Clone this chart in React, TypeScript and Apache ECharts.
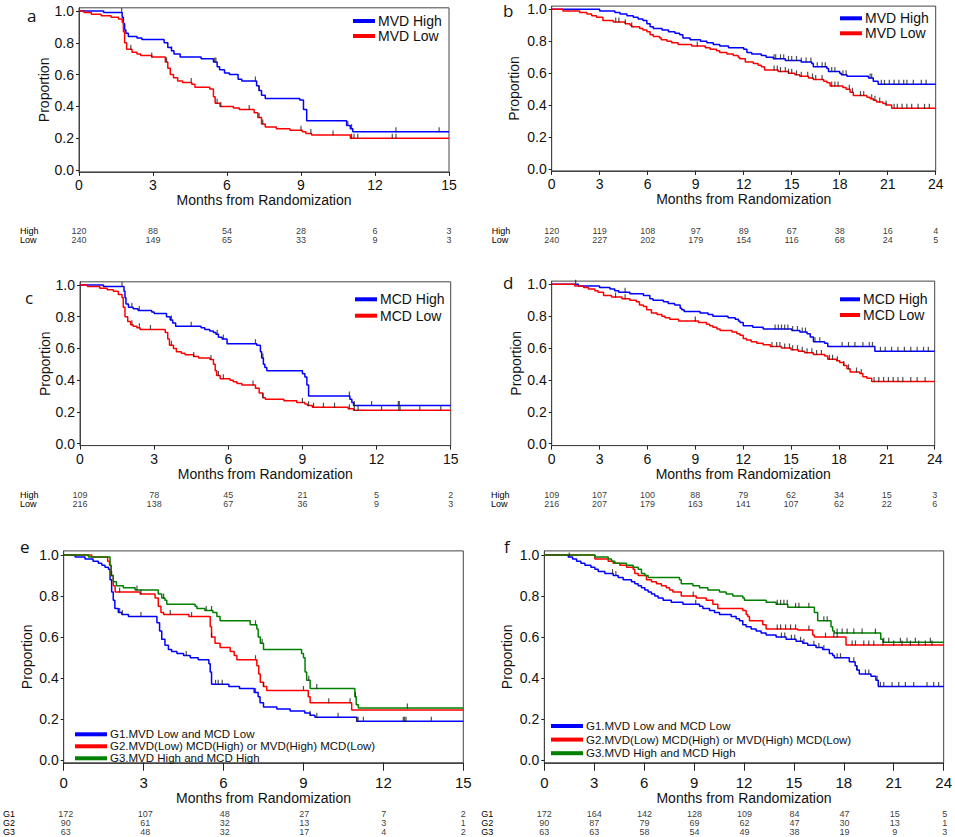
import React, { useEffect, useRef } from "react";
import * as echarts from "echarts";

type Pt = [number, number];

// ---------- Panel a: MVD, 15 months ----------
const aHigh: Pt[] = [[0,1],[1.0,0.99],[1.75,0.96],[1.8,0.92],[1.85,0.88],[1.9,0.86],[2.0,0.84],[2.35,0.83],[2.55,0.82],[3.45,0.80],[3.6,0.77],[3.75,0.75],[3.85,0.73],[4.1,0.71],[4.95,0.70],[5.45,0.68],[5.6,0.65],[5.7,0.63],[5.9,0.61],[6.1,0.60],[6.45,0.57],[6.6,0.56],[7.2,0.53],[7.3,0.50],[7.4,0.47],[7.55,0.45],[8.95,0.44],[9.1,0.38],[9.23,0.31],[10.85,0.28],[11.0,0.26],[11.1,0.24]];
const aLow: Pt[] = [[0,1],[0.2,0.99],[0.5,0.98],[0.9,0.97],[1.3,0.96],[1.6,0.95],[1.75,0.93],[1.8,0.87],[1.85,0.80],[1.93,0.76],[2.15,0.74],[2.35,0.73],[2.5,0.72],[2.95,0.71],[3.5,0.68],[3.6,0.64],[3.7,0.60],[3.83,0.58],[4.0,0.56],[4.2,0.55],[4.57,0.54],[4.7,0.52],[5.3,0.51],[5.45,0.46],[5.52,0.42],[5.72,0.40],[6.26,0.39],[6.5,0.38],[7.1,0.36],[7.25,0.33],[7.4,0.29],[7.55,0.27],[8.0,0.26],[8.55,0.25],[9.05,0.24],[9.2,0.23],[9.43,0.22],[11.0,0.20]];
const aHighCens = [1.73, 3.75, 5.5, 5.55, 7.15, 7.3, 10.9, 11.05, 12.85, 14.6];
const aLowCens = [2.1, 2.95, 3.55, 4.55, 5.6, 5.75, 6.9, 7.3, 7.45, 9.0, 9.4, 10.3, 11.05, 11.15, 11.3, 12.7, 12.85];

// ---------- Panel b: MVD, 24 months ----------
const bHigh: Pt[] = [[0,1],[3.0,0.99],[3.95,0.98],[4.27,0.97],[4.7,0.96],[5.1,0.95],[5.4,0.94],[5.7,0.93],[5.95,0.91],[6.15,0.89],[6.35,0.88],[6.9,0.87],[7.3,0.86],[7.7,0.85],[8.0,0.84],[8.2,0.82],[8.65,0.81],[9.3,0.80],[9.7,0.79],[10.1,0.78],[10.5,0.77],[11.05,0.76],[12.0,0.75],[12.2,0.73],[12.5,0.72],[13.1,0.71],[13.4,0.70],[13.85,0.69],[14.6,0.68],[15.6,0.67],[16.25,0.66],[16.35,0.64],[17.2,0.63],[17.3,0.61],[18.0,0.60],[18.1,0.59],[18.45,0.58],[19.8,0.57],[20.1,0.55],[20.4,0.53]];
const bLow: Pt[] = [[0,1],[0.7,0.99],[1.75,0.98],[2.2,0.97],[2.5,0.96],[2.8,0.95],[3.2,0.93],[3.85,0.92],[4.6,0.91],[4.9,0.90],[5.0,0.89],[5.5,0.88],[5.7,0.87],[5.95,0.86],[6.15,0.84],[6.35,0.83],[6.75,0.82],[6.85,0.81],[7.2,0.80],[7.5,0.79],[7.9,0.78],[8.75,0.77],[9.6,0.76],[9.9,0.75],[10.3,0.74],[10.5,0.73],[10.95,0.72],[11.35,0.71],[11.65,0.70],[11.75,0.69],[12.1,0.67],[12.6,0.66],[12.9,0.65],[13.1,0.64],[13.3,0.62],[14.15,0.61],[14.8,0.60],[15.2,0.59],[15.5,0.58],[16.05,0.57],[16.35,0.56],[17.0,0.55],[17.2,0.54],[17.4,0.52],[18.2,0.51],[18.4,0.50],[18.65,0.48],[18.85,0.46],[19.7,0.45],[19.9,0.44],[20.1,0.43],[20.3,0.42],[20.7,0.41],[20.9,0.40],[21.25,0.38]];
const bHighCens = [13.9,14.0,14.3,14.5,14.8,15.0,15.3,15.6,15.9,16.2,16.6,16.9,17.1,17.5,17.7,18.2,18.4,19.9,20.0,20.6,20.8,21.1,21.4,21.7,22.0,22.2,22.6,23.1,23.4];
const bLowCens = [4.0,4.2,4.6,5.0,9.1,13.9,14.1,14.3,14.6,14.8,15.0,15.3,15.6,16.0,16.3,16.5,16.9,17.5,17.7,17.9,18.6,18.8,19.3,19.5,20.0,20.2,20.5,20.9,21.4,21.6,21.9,22.2,22.5,22.9,23.3,23.6];

// ---------- Panel c: MCD, 15 months ----------
const cHigh: Pt[] = [[0,1],[0.95,0.99],[1.78,0.96],[1.82,0.92],[1.86,0.88],[1.96,0.86],[2.15,0.85],[2.35,0.84],[2.9,0.83],[3.0,0.82],[3.5,0.80],[3.65,0.78],[3.75,0.76],[3.87,0.74],[4.9,0.73],[5.05,0.72],[5.25,0.71],[5.4,0.70],[5.5,0.69],[5.6,0.67],[5.75,0.66],[5.95,0.63],[7.15,0.62],[7.3,0.58],[7.35,0.54],[7.42,0.50],[7.48,0.48],[7.56,0.46],[9.0,0.44],[9.1,0.42],[9.18,0.37],[9.25,0.30],[10.92,0.28],[11.0,0.26],[11.07,0.24]];
const cLow: Pt[] = [[0,1],[0.3,0.99],[0.8,0.98],[1.1,0.97],[1.35,0.96],[1.55,0.94],[1.7,0.92],[1.75,0.86],[1.82,0.80],[1.93,0.77],[2.05,0.75],[2.15,0.74],[2.3,0.73],[2.43,0.72],[3.45,0.70],[3.55,0.66],[3.62,0.62],[3.78,0.60],[3.9,0.58],[4.1,0.57],[4.25,0.56],[4.6,0.55],[4.8,0.54],[5.26,0.53],[5.4,0.50],[5.47,0.46],[5.53,0.43],[5.67,0.41],[6.07,0.40],[6.2,0.39],[6.35,0.38],[6.55,0.37],[7.1,0.35],[7.25,0.32],[7.4,0.29],[7.5,0.28],[8.25,0.27],[8.77,0.26],[9.1,0.25],[9.2,0.24],[9.4,0.23],[10.85,0.22],[11.07,0.21]];
const cHighCens = [1.7, 2.1, 2.4, 3.7, 4.5, 5.55, 5.8, 7.1, 7.4, 10.9, 11.1, 11.8, 12.88, 12.92];
const cLowCens = [2.1, 2.4, 2.85, 3.7, 4.6, 5.3, 5.6, 5.8, 7.0, 7.4, 9.0, 9.25, 9.45, 9.85, 10.3, 10.9, 11.1, 11.25, 12.2, 12.9, 12.95, 13.75, 14.6];

// ---------- Panel d: MCD, 24 months ----------
const dHigh: Pt[] = [[0,1],[1.67,0.99],[3.0,0.98],[3.65,0.97],[3.95,0.96],[4.2,0.95],[4.9,0.94],[5.75,0.93],[6.15,0.91],[6.35,0.90],[7.0,0.89],[7.3,0.88],[7.7,0.87],[8.05,0.85],[8.15,0.84],[8.3,0.83],[9.3,0.82],[9.8,0.81],[10.1,0.80],[11.05,0.79],[11.5,0.78],[11.7,0.77],[11.8,0.76],[12.0,0.74],[12.6,0.73],[13.25,0.72],[15.05,0.71],[15.55,0.70],[16.0,0.69],[16.2,0.67],[16.4,0.64],[17.1,0.63],[17.3,0.61],[20.25,0.58]];
const dLow: Pt[] = [[0,1],[1.45,0.99],[2.0,0.98],[2.3,0.97],[2.7,0.96],[2.9,0.95],[3.25,0.93],[3.75,0.92],[4.4,0.91],[4.9,0.90],[5.3,0.89],[5.5,0.87],[5.75,0.86],[5.95,0.84],[6.25,0.82],[6.6,0.81],[6.9,0.80],[7.1,0.79],[7.4,0.78],[7.95,0.77],[9.2,0.76],[9.7,0.75],[9.9,0.74],[10.1,0.73],[10.35,0.72],[10.55,0.71],[11.3,0.70],[11.6,0.69],[11.8,0.68],[12.0,0.66],[12.2,0.65],[12.5,0.64],[12.85,0.63],[13.25,0.62],[13.7,0.61],[14.4,0.60],[15.0,0.59],[15.45,0.58],[15.85,0.57],[16.4,0.56],[17.1,0.55],[17.3,0.53],[17.85,0.52],[18.05,0.51],[18.3,0.49],[18.5,0.47],[18.7,0.45],[19.3,0.44],[19.5,0.42],[19.75,0.41],[20.05,0.39]];
const dHighCens = [1.5, 4.6, 14.0, 14.2, 14.4, 14.6, 14.8, 15.1, 15.4, 15.7, 15.9, 16.5, 16.8, 18.2, 18.6, 19.0, 19.5, 19.9, 20.1, 20.6, 20.9, 21.3, 21.7, 22.1, 22.5, 22.9, 23.3, 23.6];
const dLowCens = [4.0, 4.6, 9.0, 13.8, 14.1, 14.3, 14.6, 14.9, 15.1, 15.4, 15.7, 16.0, 16.3, 16.6, 16.9, 17.4, 17.6, 17.9, 18.3, 18.6, 19.1, 19.4, 20.2, 20.5, 20.8, 21.1, 21.4, 21.7, 22.0, 22.5, 22.9, 23.4];

// ---------- Panel e: groups, 15 months ----------
const eG1: Pt[] = [[0,1],[0.43,0.99],[0.8,0.98],[1.1,0.97],[1.3,0.96],[1.43,0.95],[1.55,0.94],[1.68,0.93],[1.74,0.88],[1.8,0.82],[1.86,0.78],[1.92,0.74],[2.05,0.72],[2.18,0.71],[2.43,0.70],[3.5,0.67],[3.6,0.63],[3.68,0.59],[3.8,0.56],[3.93,0.54],[4.05,0.53],[4.25,0.52],[4.5,0.51],[4.75,0.50],[5.05,0.49],[5.45,0.47],[5.5,0.43],[5.55,0.37],[6.2,0.36],[6.6,0.35],[7.15,0.33],[7.3,0.31],[7.37,0.28],[7.5,0.26],[8.0,0.25],[8.5,0.24],[9.05,0.23],[9.25,0.22],[9.43,0.21],[11.0,0.19]];
const eG2: Pt[] = [[0,1],[1.05,0.99],[1.65,0.97],[1.72,0.95],[1.78,0.90],[1.86,0.85],[1.93,0.82],[2.87,0.81],[3.43,0.79],[3.55,0.75],[3.65,0.72],[3.75,0.71],[4.7,0.70],[5.5,0.65],[5.55,0.60],[5.68,0.57],[5.87,0.55],[6.25,0.53],[6.4,0.51],[6.5,0.49],[7.25,0.46],[7.32,0.42],[7.38,0.38],[7.5,0.36],[7.62,0.34],[9.18,0.31],[9.25,0.28],[10.81,0.245]];
const eG3: Pt[] = [[0,1],[0.93,0.99],[1.74,0.95],[1.78,0.90],[1.86,0.87],[1.98,0.85],[2.24,0.84],[2.68,0.83],[3.55,0.81],[3.68,0.79],[3.8,0.78],[3.87,0.76],[4.93,0.75],[5.0,0.74],[5.3,0.73],[5.6,0.72],[5.75,0.70],[5.87,0.68],[7.0,0.66],[7.25,0.64],[7.3,0.60],[7.38,0.57],[7.5,0.54],[8.93,0.52],[9.0,0.50],[9.06,0.43],[9.12,0.39],[9.25,0.35],[10.93,0.31],[10.98,0.27],[11.06,0.255]];
const eG1Cens = [2.1, 2.2, 2.9, 4.6, 5.7, 5.8, 5.95, 7.2, 9.25, 9.5, 10.3, 11.0, 11.05, 11.25, 12.75, 12.8, 12.85, 13.8];
const eG2Cens = [2.1, 2.9, 4.0, 4.8, 5.55, 7.2, 7.5, 9.0, 9.95, 10.75];
const eG3Cens = [1.8, 2.75, 3.75, 5.35, 5.55, 7.2, 7.45, 9.2, 9.5, 10.95, 12.9];

// ---------- Panel f: groups, 24 months ----------
const fG1: Pt[] = [[0,1],[1.44,0.99],[1.7,0.98],[1.94,0.97],[2.2,0.96],[2.44,0.95],[2.8,0.94],[3.04,0.93],[3.24,0.92],[3.64,0.91],[4.14,0.90],[4.44,0.89],[4.74,0.88],[5.24,0.87],[5.44,0.86],[5.64,0.85],[5.84,0.84],[6.04,0.83],[6.24,0.82],[6.44,0.81],[6.64,0.80],[6.84,0.79],[7.14,0.78],[7.63,0.77],[8.33,0.76],[9.33,0.75],[9.53,0.74],[9.93,0.73],[10.23,0.72],[10.53,0.71],[11.23,0.70],[11.53,0.69],[11.73,0.68],[11.93,0.66],[12.13,0.65],[12.43,0.64],[12.73,0.63],[13.03,0.62],[13.33,0.61],[13.93,0.60],[14.53,0.59],[15.13,0.58],[15.53,0.57],[15.83,0.56],[16.33,0.55],[16.73,0.54],[17.13,0.52],[17.33,0.51],[17.43,0.50],[18.33,0.48],[18.68,0.46],[18.78,0.44],[18.93,0.42],[19.63,0.41],[19.93,0.39],[20.07,0.36]];
const fG2: Pt[] = [[0,1],[3.04,0.98],[3.84,0.97],[4.14,0.96],[4.54,0.95],[4.94,0.94],[5.34,0.93],[5.44,0.91],[5.64,0.90],[6.14,0.88],[6.44,0.87],[6.74,0.86],[7.04,0.85],[7.33,0.84],[7.53,0.83],[7.73,0.82],[8.23,0.80],[9.13,0.79],[9.73,0.78],[10.13,0.76],[10.43,0.74],[11.93,0.73],[12.13,0.71],[12.23,0.70],[12.33,0.68],[13.13,0.66],[13.33,0.64],[15.23,0.635],[16.13,0.61],[16.23,0.60],[18.13,0.562]];
const fG3: Pt[] = [[0,1],[3.04,0.99],[3.84,0.98],[4.04,0.97],[4.24,0.96],[4.94,0.95],[5.34,0.94],[5.64,0.93],[5.84,0.91],[6.04,0.90],[6.24,0.89],[8.13,0.88],[8.23,0.86],[8.93,0.85],[9.33,0.84],[9.83,0.83],[10.53,0.82],[10.93,0.81],[11.33,0.80],[11.93,0.79],[12.03,0.78],[13.33,0.77],[13.93,0.76],[14.63,0.745],[16.23,0.72],[16.43,0.68],[17.23,0.65],[17.33,0.63],[17.43,0.62],[20.22,0.59],[20.36,0.575]];
const fG1Cens = [1.5, 4.1, 4.3, 9.1, 14.25, 14.45, 14.85, 15.05, 15.4, 15.6, 16.2, 16.5, 16.8, 17.6, 17.8, 18.6, 18.8, 19.3, 19.5, 20.0, 20.2, 20.4, 20.9, 21.3, 21.7, 22.2, 23.0, 23.4, 23.7];
const fG2Cens = [8.95, 14.0, 14.2, 14.5, 14.8, 15.1, 15.9, 16.9, 17.4, 17.6, 18.5, 18.7, 19.2, 19.5, 19.8, 20.35, 21.0, 21.5, 22.0, 22.5, 22.9, 23.3];
const fG3Cens = [14.0, 14.2, 14.4, 14.6, 15.1, 15.3, 15.9, 16.8, 17.0, 17.6, 17.9, 18.2, 18.6, 19.1, 19.9, 20.4, 20.7, 21.4, 21.8, 22.3, 23.2];

// ---------- Axis ticks & numbers at risk ----------
const ticks15 = [0, 3, 6, 9, 12, 15];
const ticks24 = [0, 3, 6, 9, 12, 15, 18, 21, 24];
const yTicks = [0, 0.2, 0.4, 0.6, 0.8, 1.0];

const hlLabels = ["High", "Low"];
const gLabels = ["G1", "G2", "G3"];
const aRiskHigh = [120, 88, 54, 28, 6, 3];
const aRiskLow = [240, 149, 65, 33, 9, 3];
const bRiskHigh = [120, 119, 108, 97, 89, 67, 38, 16, 4];
const bRiskLow = [240, 227, 202, 179, 154, 116, 68, 24, 5];
const cRiskHigh = [109, 78, 45, 21, 5, 2];
const cRiskLow = [216, 138, 67, 36, 9, 3];
const dRiskHigh = [109, 107, 100, 88, 79, 62, 34, 15, 3];
const dRiskLow = [216, 207, 179, 163, 141, 107, 62, 22, 6];
const eRiskG1 = [172, 107, 48, 27, 7, 2];
const eRiskG2 = [90, 61, 32, 13, 3, 1];
const eRiskG3 = [63, 48, 32, 17, 4, 2];
const fRiskG1 = [172, 164, 142, 128, 109, 84, 47, 15, 5];
const fRiskG2 = [90, 87, 79, 69, 62, 47, 30, 13, 1];
const fRiskG3 = [63, 63, 58, 54, 49, 38, 19, 9, 3];

const BLUE = "#0000ff";
const RED = "#ff0000";
const GREEN = "#008000";
const G1N = "G1.MVD Low and MCD Low";
const G2N = "G2.MVD(Low) MCD(High) or MVD(High) MCD(Low)";
const G3N = "G3.MVD High and MCD High";

const FONT = "'Liberation Sans', Arial, sans-serif";
const NARROW = "'Liberation Sans Narrow', 'Liberation Sans', Arial, sans-serif";

interface Curve { name: string; color: string; data: Pt[]; cens: number[] }
interface Panel {
  letter: string; letterPos: [number, number];
  xmax: number; ticks: number[];
  curves: Curve[];
  riskLabels: string[]; riskCounts: number[][];
  box: { x0: number; x1: number; y1: number; y0: number };
  riskTop: number; riskRow: number; riskMargin: number;
  yNameGap: number; xNameGap: number; xLabelMargin: number; xLabelSize: number; xTickLen: number;
  legend: { left: number; top: number; w: number; gap: number; size: number; lh: number };
}

const panels: Panel[] = [
  {
    letter: "a", letterPos: [27, 15], xmax: 15, ticks: ticks15,
    curves: [
      { name: "MVD High", color: BLUE, data: aHigh, cens: aHighCens },
      { name: "MVD Low", color: RED, data: aLow, cens: aLowCens },
    ],
    riskLabels: hlLabels, riskCounts: [aRiskHigh, aRiskLow],
    box: { x0: 79, x1: 449, y1: 11, y0: 170 },
    riskTop: 225.75, riskRow: 9.5, riskMargin: 59,
    yNameGap: 27, xNameGap: 18, xLabelMargin: 6, xLabelSize: 14, xTickLen: 4,
    legend: { left: 353, top: 14, w: 22, gap: 1, size: 14, lh: 14 },
  },
  {
    letter: "b", letterPos: [503, 10], xmax: 24, ticks: ticks24,
    curves: [
      { name: "MVD High", color: BLUE, data: bHigh, cens: bHighCens },
      { name: "MVD Low", color: RED, data: bLow, cens: bLowCens },
    ],
    riskLabels: hlLabels, riskCounts: [bRiskHigh, bRiskLow],
    box: { x0: 551.7, x1: 935.7, y1: 9.3, y0: 169 },
    riskTop: 225.75, riskRow: 9.5, riskMargin: 60,
    yNameGap: 31, xNameGap: 18, xLabelMargin: 6, xLabelSize: 14, xTickLen: 4,
    legend: { left: 840, top: 11.3, w: 22, gap: 1, size: 14, lh: 14 },
  },
  {
    letter: "c", letterPos: [25, 297.5], xmax: 15, ticks: ticks15,
    curves: [
      { name: "MCD High", color: BLUE, data: cHigh, cens: cHighCens },
      { name: "MCD Low", color: RED, data: cLow, cens: cLowCens },
    ],
    riskLabels: hlLabels, riskCounts: [cRiskHigh, cRiskLow],
    box: { x0: 80, x1: 450.7, y1: 285, y0: 443.7 },
    riskTop: 489.75, riskRow: 9.5, riskMargin: 60,
    yNameGap: 28, xNameGap: 17, xLabelMargin: 6, xLabelSize: 14, xTickLen: 4,
    legend: { left: 355, top: 292.3, w: 22, gap: 2.4, size: 14, lh: 14 },
  },
  {
    letter: "d", letterPos: [503, 282.5], xmax: 24, ticks: ticks24,
    curves: [
      { name: "MCD High", color: BLUE, data: dHigh, cens: dHighCens },
      { name: "MCD Low", color: RED, data: dLow, cens: dLowCens },
    ],
    riskLabels: hlLabels, riskCounts: [dRiskHigh, dRiskLow],
    box: { x0: 551.7, x1: 934.7, y1: 284.3, y0: 443.7 },
    riskTop: 489.75, riskRow: 9.5, riskMargin: 60.7,
    yNameGap: 25, xNameGap: 18, xLabelMargin: 6, xLabelSize: 14, xTickLen: 4,
    legend: { left: 840, top: 292.3, w: 20, gap: 1.7, size: 14, lh: 14 },
  },
  {
    letter: "e", letterPos: [20, 546], xmax: 15, ticks: ticks15,
    curves: [
      { name: G1N, color: BLUE, data: eG1, cens: eG1Cens },
      { name: G2N, color: RED, data: eG2, cens: eG2Cens },
      { name: G3N, color: GREEN, data: eG3, cens: eG3Cens },
    ],
    riskLabels: gLabels, riskCounts: [eRiskG1, eRiskG2, eRiskG3],
    box: { x0: 63.7, x1: 463.3, y1: 555, y0: 760.3 },
    riskTop: 809.25, riskRow: 9.5, riskMargin: 62.7,
    yNameGap: 30, xNameGap: 27, xLabelMargin: 12, xLabelSize: 15, xTickLen: 8,
    legend: { left: 75, top: 728.3, w: 32, gap: 0, size: 11.5, lh: 11.5 },
  },
  {
    letter: "f", letterPos: [504, 546], xmax: 24, ticks: ticks24,
    curves: [
      { name: G1N, color: BLUE, data: fG1, cens: fG1Cens },
      { name: G2N, color: RED, data: fG2, cens: fG2Cens },
      { name: G3N, color: GREEN, data: fG3, cens: fG3Cens },
    ],
    riskLabels: gLabels, riskCounts: [fRiskG1, fRiskG2, fRiskG3],
    box: { x0: 544.3, x1: 944.7, y1: 555, y0: 760.3 },
    riskTop: 809.25, riskRow: 9.5, riskMargin: 63,
    yNameGap: 30, xNameGap: 27, xLabelMargin: 12, xLabelSize: 15, xTickLen: 8,
    legend: { left: 551, top: 720, w: 32, gap: 1.6, size: 11.5, lh: 12 },
  },
];

const Y_MIN = -0.012;
const Y_MAX = 1.02;
const RISK_FONT = 9;

function stepAt(curve: Pt[], t: number): number {
  let v = curve[0][1];
  for (const [x, y] of curve) {
    if (x <= t) v = y;
    else break;
  }
  return v;
}

function buildOption() {
  const grid: any[] = [];
  const xAxis: any[] = [];
  const yAxis: any[] = [];
  const series: any[] = [];
  const legend: any[] = [];
  const graphic: any[] = [];

  panels.forEach((p, i) => {
    const h = p.box.y0 - p.box.y1;
    const mi = 2 * i;
    const ri = 2 * i + 1;
    grid.push({
      left: p.box.x0,
      top: p.box.y1 - (Y_MAX - 1) * h,
      width: p.box.x1 - p.box.x0,
      height: (Y_MAX - Y_MIN) * h,
      show: true,
      borderColor: "#444",
      borderWidth: 1,
      backgroundColor: "transparent",
    });
    grid.push({
      left: p.box.x0,
      top: p.riskTop,
      width: p.box.x1 - p.box.x0,
      height: p.riskRow * p.riskLabels.length,
    });

    xAxis.push({
      gridIndex: mi,
      type: "value",
      min: 0,
      max: p.xmax,
      interval: 3,
      axisLine: { show: true, onZero: false, lineStyle: { color: "#444" } },
      axisTick: { show: true, length: p.xTickLen, lineStyle: { color: "#222" } },
      axisLabel: { fontSize: p.xLabelSize, color: "#111", margin: p.xLabelMargin, fontFamily: p.xLabelSize > 14 ? NARROW : FONT, showMinLabel: true, showMaxLabel: true },
      splitLine: { show: false },
      name: "Months from Randomization",
      nameLocation: "middle",
      nameGap: p.xNameGap,
      nameTextStyle: { fontSize: 14, color: "#111", fontFamily: FONT },
    });
    xAxis.push({ gridIndex: ri, type: "value", min: 0, max: p.xmax, show: false });

    yAxis.push({
      gridIndex: mi,
      type: "value",
      min: Y_MIN,
      max: Y_MAX,
      axisLine: { show: true, onZero: false, lineStyle: { color: "#444" } },
      axisTick: { show: true, length: 3, customValues: yTicks, lineStyle: { color: "#222" } },
      axisLabel: { customValues: yTicks, formatter: (v: number) => v.toFixed(1), fontSize: 14, color: "#111", margin: 5, fontFamily: FONT },
      splitLine: { show: false },
      name: "Proportion",
      nameLocation: "middle",
      nameGap: p.yNameGap,
      nameRotate: 90,
      nameTextStyle: { fontSize: 14, color: "#111", fontFamily: FONT },
    });
    yAxis.push({
      gridIndex: ri,
      type: "category",
      data: p.riskLabels,
      inverse: true,
      axisLine: { show: false },
      axisTick: { show: false },
      splitLine: { show: false },
      axisLabel: { interval: 0, align: "left", margin: p.riskMargin, fontSize: RISK_FONT, lineHeight: RISK_FONT, color: "#000", fontFamily: FONT },
    });

    p.curves.forEach((c) => {
      const last = c.data[c.data.length - 1];
      series.push({
        type: "line",
        name: c.name,
        xAxisIndex: mi,
        yAxisIndex: mi,
        step: "end",
        symbol: "none",
        silent: true,
        lineStyle: { width: 1.5, color: c.color },
        itemStyle: { color: c.color },
        data: [...c.data, [p.xmax, last[1]]],
      });
    });
    p.curves.forEach((c) => {
      series.push({
        type: "scatter",
        name: c.name + " (censored)",
        xAxisIndex: mi,
        yAxisIndex: mi,
        symbol: "rect",
        symbolSize: [1.2, 5],
        symbolOffset: [0, -2],
        silent: true,
        z: 5,
        itemStyle: { color: "#222" },
        data: c.cens.map((t) => [t, stepAt(c.data, t)]),
      });
    });
    p.riskCounts.forEach((counts, r) => {
      series.push({
        type: "scatter",
        name: "risk-" + p.letter + "-" + r,
        xAxisIndex: ri,
        yAxisIndex: ri,
        symbolSize: 1,
        silent: true,
        itemStyle: { color: "rgba(0,0,0,0)" },
        label: {
          show: true,
          position: "inside",
          formatter: (q: any) => String(q.value[2]),
          fontSize: RISK_FONT,
          lineHeight: RISK_FONT,
          color: "#000",
          fontFamily: FONT,
        },
        labelLayout: { hideOverlap: false },
        data: p.ticks.map((t, j) => [t, r, counts[j]]),
      });
    });

    legend.push({
      data: p.curves.map((c) => c.name),
      orient: "vertical",
      left: p.legend.left,
      top: p.legend.top,
      padding: 0,
      icon: "rect",
      itemWidth: p.legend.w,
      itemHeight: 4,
      itemGap: p.legend.gap,
      selectedMode: false,
      textStyle: { fontSize: p.legend.size, lineHeight: p.legend.lh, color: "#111", fontFamily: FONT, padding: [0, 0, 0, -2] },
    });

    graphic.push({
      type: "text",
      x: p.letterPos[0],
      y: p.letterPos[1],
      style: { text: p.letter, fontSize: 17, fill: "#111", fontFamily: "'Open Sans', 'Noto Sans', sans-serif", verticalAlign: "middle", align: "left" },
    });
  });

  return {
    animation: false,
    backgroundColor: "#ffffff",
    textStyle: { fontFamily: FONT },
    grid,
    xAxis,
    yAxis,
    series,
    legend,
    graphic,
  };
}

export default function App() {
  const ref = useRef<HTMLDivElement>(null);
  useEffect(() => {
    if (!ref.current) return;
    const chart = echarts.init(ref.current, undefined, { renderer: "svg" });
    chart.setOption(buildOption() as any);
    return () => chart.dispose();
  }, []);
  return (
    <div
      ref={ref}
      style={{ position: "absolute", left: 0, top: 0, width: 955, height: 837, background: "#fff" }}
    />
  );
}
